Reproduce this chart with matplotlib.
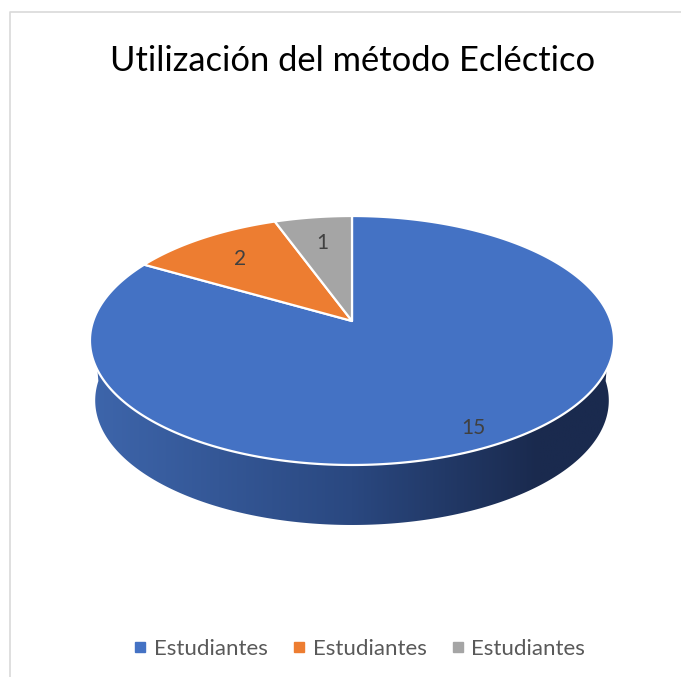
import numpy as np
import matplotlib
matplotlib.use("Agg")
import matplotlib.pyplot as plt
from matplotlib.patches import Polygon
from matplotlib.lines import Line2D

# ---- data ----
title = "Utilización del método Ecléctico"
labels = ["Estudiantes", "Estudiantes", "Estudiantes"]
values = [15, 2, 1]
colors = ["#4472C4", "#ED7D31", "#A5A5A5"]

W, H = 681, 677
fig = plt.figure(figsize=(W / 100, H / 100), dpi=100)
ax = fig.add_axes([0, 0, 1, 1])
ax.set_xlim(0, W)
ax.set_ylim(H, 0)
ax.axis("off")

# chart-area border (light gray), top and left visible
ax.plot([10, 10, W + 5], [H + 5, 12, 12], color="#D9D9D9", lw=1.2)

# perspective projection of the pie disc
cx, cy = 352.0, 321.0
k = 0.1566
a = 258.8
b = -71.17
depth = 60.0
bscale = 0.98


def proj(t, r=1.0, bottom=False):
    x = r * np.cos(t)
    y = r * np.sin(t)
    w = 1 + k * y
    u = a * x / w
    v = (cy + b * y) / w
    if bottom:
        return cx + bscale * u, v + depth
    return cx + u, v


# side wall (front) with gradient
t = np.linspace(np.pi, 2 * np.pi, 300)
tu, tv = proj(t)
bu, bv = proj(t, bottom=True)
wall = np.column_stack([np.concatenate([tu, bu[::-1]]),
                        np.concatenate([tv, bv[::-1]])])
wall_patch = Polygon(wall, closed=True, facecolor="none", edgecolor="none")
ax.add_patch(wall_patch)
left_c = np.array([62, 102, 172]) / 255
mid_c = np.array([42, 72, 128]) / 255
right_c = np.array([26, 42, 78]) / 255
n = 256
s = np.linspace(0, 1, n)
grad = np.zeros((2, n, 3))
for i, ss in enumerate(s):
    if ss < 0.5:
        c = left_c + (mid_c - left_c) * (ss / 0.5)
    else:
        c = mid_c + (right_c - mid_c) * min(1, (ss - 0.5) / 0.35)
    grad[:, i, :] = c
im = ax.imshow(grad, extent=(cx - a * 1.03, cx + a * 1.03, 540, 300),
               aspect="auto", interpolation="bilinear", zorder=1)
im.set_clip_path(wall_patch)

# top face wedges (clockwise from 12 o'clock)
total = float(sum(values))
start = np.pi / 2
for i, (val, col) in enumerate(zip(values, colors)):
    span = 2 * np.pi * val / total
    tt = np.linspace(start, start - span, max(4, int(400 * val / total)))
    uu, vv = proj(tt)
    pts = np.column_stack([np.concatenate([[cx], uu]),
                           np.concatenate([[cy], vv])])
    ax.add_patch(Polygon(pts, closed=True, facecolor=col, edgecolor="white",
                         lw=1.6, joinstyle="round", zorder=2))
    mid = start - span / 2
    if val / total > 0.5:
        ux, vy = proj(mid - 0.033, r=0.878)
    else:
        ux, vy = proj(mid, r=0.73)
    ax.text(ux, vy, str(val), ha="center", va="center", fontsize=15,
            family="Lato", color="#404040", zorder=3)
    start -= span

ax.text(353, 61, title, ha="center", va="center", fontsize=24.8,
        family="Lato", color="#000000")

handles = [Line2D([], [], marker="s", linestyle="none", markersize=6.5,
                  markerfacecolor=c, markeredgecolor=c) for c in colors]
ax.legend(handles, labels, loc="center", bbox_to_anchor=(360 / W, 1 - 649 / H),
          ncol=3, frameon=False, handlelength=0.5, handletextpad=0.35,
          columnspacing=1.18, prop={"family": "Lato", "size": 16},
          labelcolor="#595959")

fig.savefig("out.png", dpi=100)
